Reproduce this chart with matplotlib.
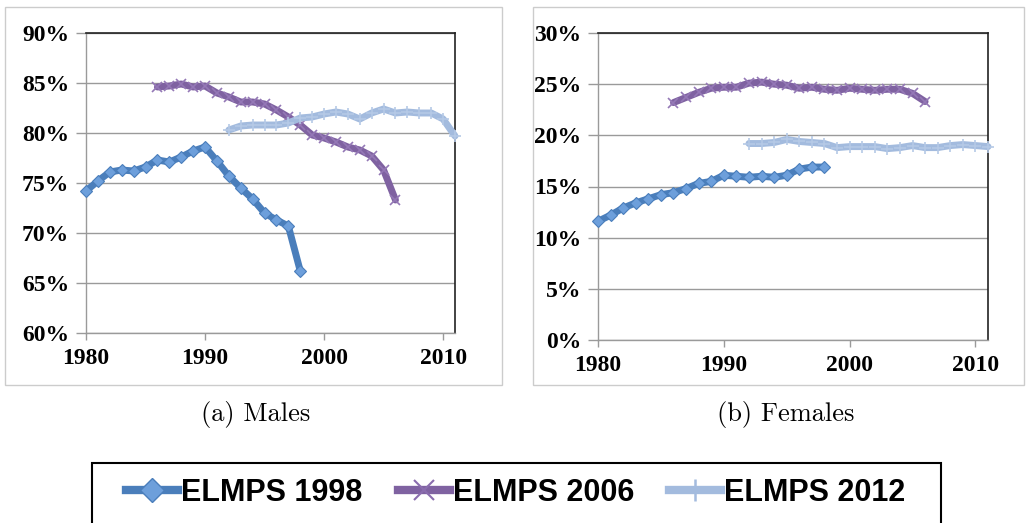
import matplotlib
matplotlib.use("Agg")
import matplotlib.pyplot as plt
from matplotlib import font_manager
from matplotlib.lines import Line2D
from matplotlib.patches import Rectangle
from matplotlib.ticker import PercentFormatter, MultipleLocator

# Employment shares by year of first job, from three ELMPS rounds
years_1998 = list(range(1980, 1999))
years_2006 = list(range(1986, 2007))
years_2012 = list(range(1992, 2012))

males_1998 = [74.2, 75.2, 76.1, 76.3, 76.2, 76.6, 77.3, 77.1, 77.6, 78.2,
              78.6, 77.2, 75.7, 74.5, 73.4, 72.0, 71.3, 70.7, 66.2]
males_2006 = [84.6, 84.7, 84.9, 84.6, 84.7, 84.0, 83.6, 83.1, 83.1, 82.9,
              82.3, 81.6, 80.8, 79.8, 79.5, 79.1, 78.6, 78.3, 77.7, 76.3, 73.3]
males_2012 = [80.3, 80.7, 80.8, 80.8, 80.8, 81.0, 81.5, 81.6, 81.9, 82.1,
              81.9, 81.4, 82.0, 82.4, 82.0, 82.1, 82.0, 82.0, 81.4, 79.7]

females_1998 = [11.6, 12.2, 12.9, 13.4, 13.8, 14.2, 14.4, 14.8, 15.3, 15.5,
                16.1, 16.0, 15.9, 16.0, 15.9, 16.1, 16.7, 16.9, 16.9]
females_2006 = [23.2, 23.7, 24.2, 24.6, 24.7, 24.7, 25.1, 25.2, 25.0, 24.9,
                24.6, 24.7, 24.5, 24.4, 24.6, 24.5, 24.4, 24.5, 24.5, 24.1, 23.3]
females_2012 = [19.2, 19.2, 19.3, 19.6, 19.4, 19.3, 19.2, 18.8, 18.9, 18.9,
                18.9, 18.7, 18.8, 19.0, 18.8, 18.8, 19.0, 19.1, 19.0, 18.9]

series_labels = ["ELMPS 1998", "ELMPS 2006", "ELMPS 2012"]
panel_titles = ["(a) Males", "(b) Females"]
x_ticks = [1980, 1990, 2000, 2010]

styles = [
    dict(color="#4a7ebb", marker="D", markersize=6.5, markerfacecolor="#6d9fdb",
         markeredgecolor="#4a7ebb", markeredgewidth=0.8),
    dict(color="#7f62a1", marker="x", markersize=7, markeredgecolor="#9478b6",
         markeredgewidth=1.2),
    dict(color="#a3bbde", marker="+", markersize=8, markeredgecolor="#b5c9e6",
         markeredgewidth=1.2),
]

tick_font = font_manager.FontProperties(family="Liberation Serif", weight="bold", size=17)

fig = plt.figure(figsize=(10.28, 5.23), dpi=100)

# light chart-area borders behind each panel
for x0, x1 in [(5, 502), (533, 1024)]:
    fig.patches.append(Rectangle((x0 / 1028, 1 - 385 / 523), (x1 - x0) / 1028, 378 / 523,
                                 transform=fig.transFigure, fill=False,
                                 edgecolor="#cccccc", linewidth=1.0))

ax_m = fig.add_axes([86 / 1028, 1 - 333 / 523, 369 / 1028, 300 / 523])
ax_f = fig.add_axes([598 / 1028, 1 - 340 / 523, 390 / 1028, 307 / 523])

panels = [
    (ax_m, [males_1998, males_2006, males_2012], (60, 90)),
    (ax_f, [females_1998, females_2006, females_2012], (0, 30)),
]
for ax, data, ylim in panels:
    for yrs, vals, st, lab in zip([years_1998, years_2006, years_2012], data, styles, series_labels):
        ax.plot(yrs, vals, linewidth=5, solid_capstyle="round", solid_joinstyle="round",
                label=lab, clip_on=False, zorder=3, **st)
    ax.set_xlim(1980, 2011)
    ax.set_ylim(*ylim)
    ax.set_xticks(x_ticks)
    ax.yaxis.set_major_locator(MultipleLocator(5))
    ax.yaxis.set_major_formatter(PercentFormatter(xmax=100, decimals=0))
    ax.grid(axis="y", color="#9a9a9a", linewidth=1.0)
    ax.set_axisbelow(True)
    for side in ["top", "right"]:
        ax.spines[side].set_color("#222222")
        ax.spines[side].set_linewidth(1.2)
    for side in ["left", "bottom"]:
        ax.spines[side].set_color("#9a9a9a")
        ax.spines[side].set_linewidth(1.0)
    ax.tick_params(axis="y", length=7, width=1, color="#9a9a9a", pad=5)
    ax.tick_params(axis="x", length=5, width=1, color="#9a9a9a", pad=6)
    for lbl in ax.get_xticklabels() + ax.get_yticklabels():
        lbl.set_fontproperties(tick_font)

# subfigure captions
fig.text(256 / 1028, 1 - 415 / 523, panel_titles[0], family="cmr10", size=19,
         ha="center", va="center")
fig.text(786 / 1028, 1 - 415 / 523, panel_titles[1], family="cmr10", size=19,
         ha="center", va="center")

# legend: bigger sample markers, boxed across the bottom
legend_handles = [
    Line2D([], [], color="#4a7ebb", linewidth=6, marker="D", markersize=12,
           markerfacecolor="#6d9fdb", markeredgecolor="#4a7ebb"),
    Line2D([], [], color="#7f62a1", linewidth=6, marker="x", markersize=14,
           markeredgecolor="#8a6cae", markeredgewidth=1.5),
    Line2D([], [], color="#a3bbde", linewidth=6, marker="+", markersize=16,
           markeredgecolor="#a3bbde", markeredgewidth=1.8),
]
fig.patches.append(Rectangle((92 / 1028, -0.05), 849 / 1028, 1 - 463 / 523 + 0.05,
                             transform=fig.transFigure, fill=False,
                             edgecolor="black", linewidth=1.5))
fig.legend(legend_handles, series_labels, loc="center", ncol=3,
           bbox_to_anchor=(516 / 1028, 1 - 493 / 523), frameon=False,
           borderaxespad=0, borderpad=0, handlelength=1.7, handletextpad=0.1,
           columnspacing=1.15,
           prop=dict(family="Liberation Sans", weight="bold", size=22))

fig.savefig("out.png", dpi=100)
